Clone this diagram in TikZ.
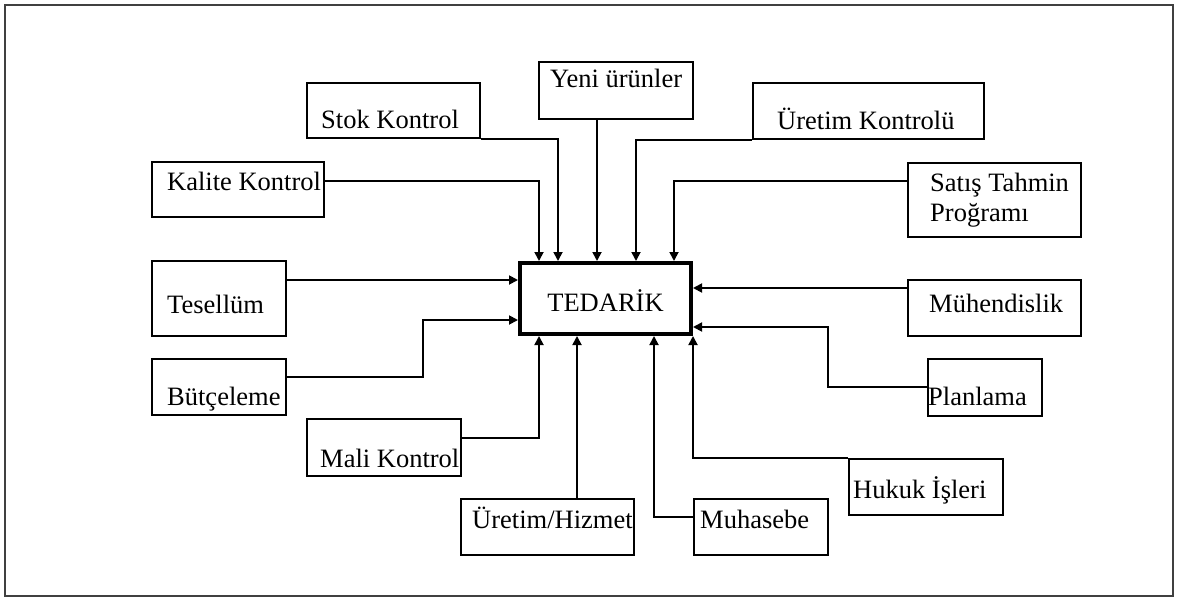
\documentclass[tikz,border=0pt]{standalone}
\usepackage{fontspec}
\setmainfont{Liberation Serif}
\usetikzlibrary{arrows.meta,calc}
\begin{document}
\begin{tikzpicture}[x=1pt,y=-1pt,
  box/.style={draw, line width=2.2pt, inner sep=0pt, anchor=north west},
  core/.style={draw, line width=4.4pt, inner sep=0pt, anchor=north west},
  lbl/.style={anchor=base west, inner sep=0pt, font=\fontsize{26.5}{30}\selectfont},
  link/.style={line width=1.8pt, -{Triangle[length=9pt,width=9pt]}},
]
\useasboundingbox (0,0) rectangle (1178,599);
% outer frame
\draw[line width=1.4pt, black!75] (5,5) rectangle (1173,596);

% central unit
\node[core, minimum width=170.6pt, minimum height=70.6pt] (ted) at (518,261) {};

% surrounding units
\node[box, minimum width=172.8pt, minimum height=54.8pt] (stok) at (306,82) {};
\node[box, minimum width=171.8pt, minimum height=54.8pt] (kal)  at (151,161) {};
\node[box, minimum width=153.8pt, minimum height=56.8pt] (yeni) at (538,61) {};
\node[box, minimum width=230.8pt, minimum height=55.8pt] (uk)   at (752,82) {};
\node[box, minimum width=172.8pt, minimum height=73.8pt] (sat)  at (907,162) {};
\node[box, minimum width=133.8pt, minimum height=74.8pt] (tes)  at (151,260) {};
\node[box, minimum width=133.8pt, minimum height=55.8pt] (but)  at (151,358) {};
\node[box, minimum width=153.8pt, minimum height=56.8pt] (mali) at (306,418) {};
\node[box, minimum width=172.8pt, minimum height=55.8pt] (uh)   at (460,498) {};
\node[box, minimum width=133.8pt, minimum height=55.8pt] (muh)  at (693,498) {};
\node[box, minimum width=153.8pt, minimum height=55.8pt] (huk)  at (848,458) {};
\node[box, minimum width=113.8pt, minimum height=56.8pt] (plan) at (927,358) {};
\node[box, minimum width=172.8pt, minimum height=55.8pt] (muhe) at (907,279) {};

% labels
\node[lbl, anchor=base] (l-ted) at ($(ted.center)+(0,13)$) {TEDARİK};
\node[lbl] (l-stok) at ($(stok.north west)+(15,47)$) {Stok Kontrol};
\node[lbl] (l-kal)  at ($(kal.north west)+(16,29)$) {Kalite Kontrol};
\node[lbl] (l-yeni) at ($(yeni.north west)+(12,27)$) {Yeni ürünler};
\node[lbl] (l-uk)   at ($(uk.north west)+(25,48)$) {Üretim Kontrolü};
\node[lbl] (l-sat1) at ($(sat.north west)+(23,29)$) {Satış Tahmin};
\node[lbl] (l-sat2) at ($(sat.north west)+(23,59)$) {Proğramı};
\node[lbl] (l-tes)  at ($(tes.north west)+(16,53)$) {Tesellüm};
\node[lbl] (l-but)  at ($(but.north west)+(16,47)$) {Bütçeleme};
\node[lbl] (l-mali) at ($(mali.north west)+(14,49)$) {Mali Kontrol};
\node[lbl] (l-uh)   at ($(uh.north west)+(12,30)$) {Üretim/Hizmet};
\node[lbl] (l-muh)  at ($(muh.north west)+(7,30)$) {Muhasebe};
\node[lbl] (l-huk)  at ($(huk.north west)+(5,40)$) {Hukuk İşleri};
\node[lbl] (l-plan) at ($(plan.north west)+(1,47)$) {Planlama};
\node[lbl] (l-muhe) at ($(muhe.north west)+(22,33)$) {Mühendislik};

% connectors into the top side
\draw[link] ($(kal.north east)+(0,20)$) -| ($(ted.north west)+(21,0)$);
\draw[link] (stok.south east) -| ($(ted.north west)+(40,0)$);
\draw[link] ($(yeni.south west)+(59,0)$) -- ($(ted.north west)+(79,0)$);
\draw[link] (uk.south west) -| ($(ted.north west)+(118,0)$);
\draw[link] ($(sat.north west)+(0,19)$) -| ($(ted.north west)+(156,0)$);

% connectors into the left side
\draw[link] ($(tes.north east)+(0,20)$) -- ($(ted.north west)+(0,19)$);
\draw[link] ($(but.north east)+(0,19)$) -| ($(ted.north west)+(-95,59)$) -- ($(ted.north west)+(0,59)$);

% connectors into the bottom side
\draw[link] ($(mali.north east)+(0,20)$) -| ($(ted.south west)+(21,0)$);
\draw[link] ($(uh.north west)+(117,0)$) -- ($(ted.south west)+(59,0)$);
\draw[link] ($(muh.north west)+(0,19)$) -| ($(ted.south west)+(136,0)$);
\draw[link] (huk.north west) -| (ted.south east);

% connectors into the right side
\draw[link] ($(muhe.north west)+(0,9)$) -- ($(ted.north east)+(0,27)$);
\draw[link] ($(plan.north west)+(0,29)$) -| ($(ted.north east)+(135,66)$) -- ($(ted.north east)+(0,66)$);
\end{tikzpicture}
\end{document}
